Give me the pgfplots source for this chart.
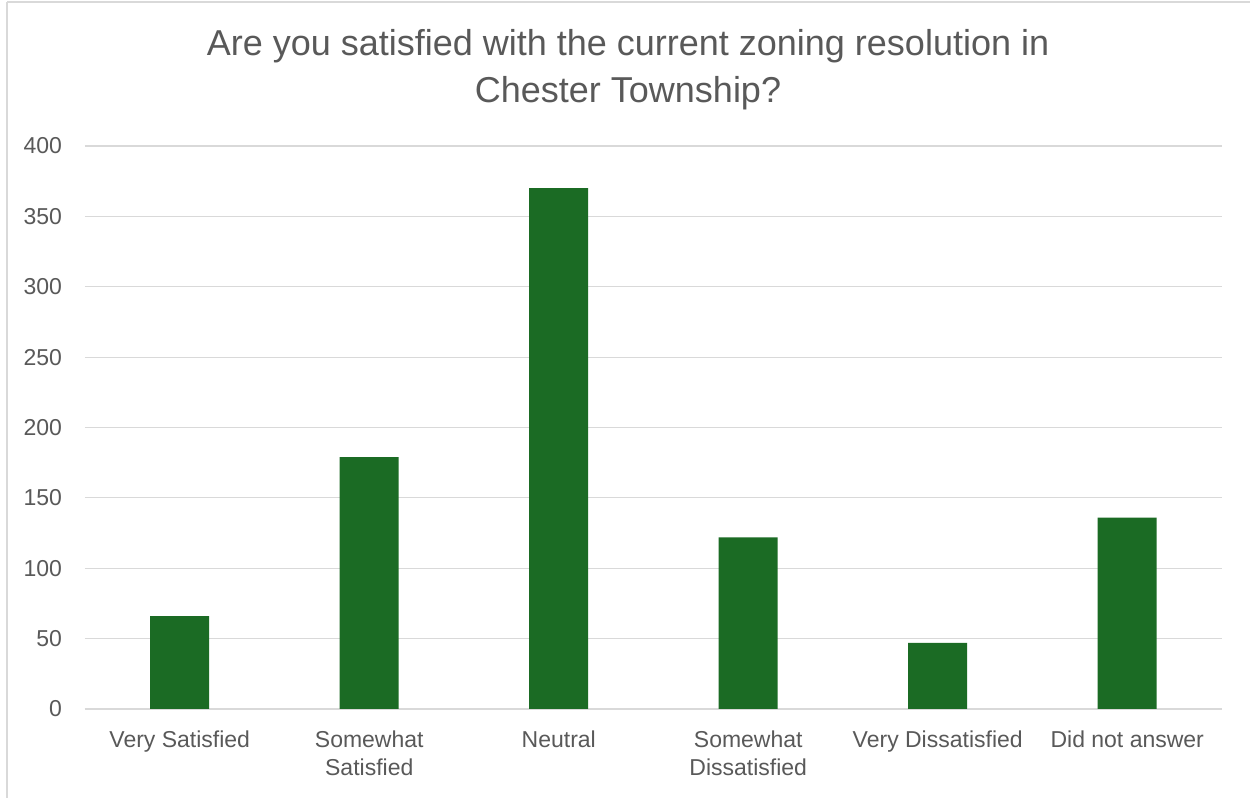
\documentclass[border=0pt]{standalone}
\usepackage{pgfplots}
\pgfplotsset{compat=1.18}
\usepackage{fontspec}
\setmainfont{Liberation Sans}
\definecolor{txt}{HTML}{595959}
\definecolor{grd}{HTML}{D9D9D9}
\definecolor{bar}{HTML}{1B6B24}
\begin{document}
\begin{tikzpicture}
\useasboundingbox (0pt,0pt) rectangle (625pt,399pt);
\fill[white] (0pt,0pt) rectangle (625pt,399pt);
\draw[grd,line width=1.2pt] (3.5pt,398pt) -- (625pt,398pt);
\draw[grd,line width=1.2pt] (3.5pt,398pt) -- (3.5pt,0pt);
\node[anchor=base,text=txt,font=\fontsize{18}{23.5}\selectfont,align=center] at (314pt,347.5pt)
  {Are you satisfied with the current zoning resolution in\\Chester Township?};
\begin{axis}[
  at={(42.5pt,44.5pt)}, anchor=south west,
  scale only axis,
  width=568.5pt, height=281.5pt,
  ymin=0, ymax=400, ytick={0,50,...,400},
  xmin=-0.5, xmax=5.5,
  xtick={0,...,5},
  xticklabels={Very Satisfied,{Somewhat\\Satisfied},Neutral,{Somewhat\\Dissatisfied},Very Dissatisfied,Did not answer},
  x tick label style={align=center, font=\fontsize{11.5}{14}\selectfont, text=txt, anchor=north, yshift=-7.5pt},
  y tick label style={font=\fontsize{11.5}{13}\selectfont, text=txt, anchor=east, xshift=-8pt},
  /pgf/number format/assume math mode=true,
  ymajorgrids, grid style={grd, line width=0.6pt},
  axis line style={draw=none},
  axis x line*=bottom,
  x axis line style={draw=grd, line width=0.6pt},
  major tick length=0pt,
  tick style={draw=none},
  ybar, bar width=29.5pt,
]
\addplot[fill=bar, draw=none] coordinates {(0,66) (1,179) (2,370) (3,122) (4,47) (5,136)};
\end{axis}
\end{tikzpicture}
\end{document}
